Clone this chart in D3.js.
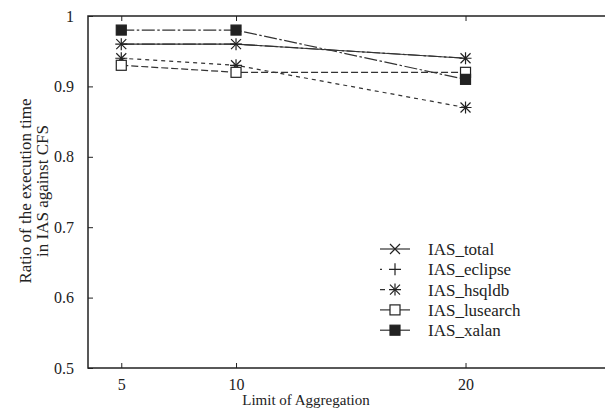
<!DOCTYPE html>
<html>
<head>
<meta charset="utf-8">
<script src="https://cdn.jsdelivr.net/npm/d3@7"></script>
<style>
	body { margin: 0; background: #fff; }
	text { font-family: "Liberation Serif", "DejaVu Serif", serif; fill: #222; }
</style>
</head>
<body>
<div class="chart"></div>
<script>
(function() {

	const limits = [5, 10, 20];
	const yTicks = [0.5, 0.6, 0.7, 0.8, 0.9, 1];

	const iasTotal    = [0.96, 0.96, 0.94];
	const iasEclipse  = [0.96, 0.96, 0.94];
	const iasHsqldb   = [0.94, 0.93, 0.87];
	const iasLusearch = [0.93, 0.92, 0.92];
	const iasXalan    = [0.98, 0.98, 0.91];

	const series = [
		{name: "IAS_total", values: iasTotal, dash: null, legendDash: null, marker: "x"},
		{name: "IAS_eclipse", values: iasEclipse, dash: "13,2.5,2.5,2.5", legendDash: "2,7,0,30", marker: "plus"},
		{name: "IAS_hsqldb", values: iasHsqldb, dash: "4,4", legendDash: "5,3,0,30", marker: "star"},
		{name: "IAS_lusearch", values: iasLusearch, dash: "7,3", legendDash: null, marker: "open"},
		{name: "IAS_xalan", values: iasXalan, dash: "13,2.5,2.5,2.5", legendDash: null, marker: "filled"}
	];

	const width = 605, height = 408;
	const margin = {top: 16, left: 88, bottom: 368};

	const x = d3.scaleLinear()
		.domain([3.55, 26.5])
		.range([margin.left, margin.left + 22.95 * 22.95]);

	const y = d3.scaleLinear()
		.domain([0.5, 1])
		.range([margin.bottom, margin.top]);

	const svg = d3.select(".chart").append("svg")
		.attr("width", width)
		.attr("height", height);

	// frame
	svg.append("rect")
		.attr("x", x.range()[0])
		.attr("y", margin.top)
		.attr("width", x.range()[1] - x.range()[0])
		.attr("height", margin.bottom - margin.top)
		.attr("fill", "none")
		.attr("stroke", "#222")
		.attr("stroke-width", 1.5);

	const xAxis = d3.axisBottom(x).tickValues(limits).tickSize(-5).tickPadding(11);
	const xAxisTop = d3.axisTop(x).tickValues(limits).tickSize(-5).tickFormat("");
	const yAxis = d3.axisLeft(y).tickValues(yTicks).tickSize(-5).tickPadding(14)
		.tickFormat(d => d === 1 ? "1" : d3.format(".1f")(d));

	function styleAxis(g) {
		g.select(".domain").remove();
		g.selectAll("line").attr("stroke", "#222");
		g.selectAll("text").style("font-size", "16px").attr("fill", "#222");
	}

	svg.append("g")
		.attr("transform", "translate(0," + margin.bottom + ")")
		.call(xAxis)
		.call(styleAxis);

	svg.append("g")
		.attr("transform", "translate(0," + margin.top + ")")
		.call(xAxisTop)
		.call(styleAxis);

	svg.append("g")
		.attr("transform", "translate(" + margin.left + ",0)")
		.call(yAxis)
		.call(styleAxis);

	svg.append("text")
		.attr("x", 306)
		.attr("y", 405)
		.attr("text-anchor", "middle")
		.style("font-size", "15px")
		.text("Limit of Aggregation");

	const yLabel = svg.append("text")
		.attr("transform", "translate(34,191) rotate(-90)")
		.attr("text-anchor", "middle")
		.style("font-size", "17px");
	yLabel.append("tspan").attr("x", 0).attr("dy", "-0.15em").text("Ratio of the execution time");
	yLabel.append("tspan").attr("x", 0).attr("dy", "0.95em").text("in IAS against CFS");

	function drawMarker(g, type) {
		const s = 5;
		if (type === "x" || type === "star") {
			g.append("path")
				.attr("d", `M${-s},${-s}L${s},${s}M${-s},${s}L${s},${-s}`)
				.attr("stroke", "#222").attr("stroke-width", 1.2);
		}
		if (type === "plus" || type === "star") {
			g.append("path")
				.attr("d", `M${-s - 1},0L${s + 1},0M0,${-s - 1}L0,${s + 1}`)
				.attr("stroke", "#222").attr("stroke-width", 1.2);
		}
		if (type === "open" || type === "filled") {
			g.append("rect")
				.attr("x", -s).attr("y", -s)
				.attr("width", 2 * s).attr("height", 2 * s)
				.attr("fill", type === "filled" ? "#222" : "#fff")
				.attr("stroke", "#222").attr("stroke-width", 1.2);
		}
	}

	const line = d3.line()
		.x((d, i) => x(limits[i]))
		.y(d => y(d));

	series.forEach(s => {
		svg.append("path")
			.attr("d", line(s.values))
			.attr("fill", "none")
			.attr("stroke", "#333")
			.attr("stroke-width", 1.2)
			.attr("stroke-dasharray", s.dash);
	});

	series.forEach(s => {
		s.values.forEach((v, i) => {
			const g = svg.append("g")
				.attr("transform", `translate(${x(limits[i])},${y(v)})`);
			drawMarker(g, s.marker);
		});
	});

	// legend
	const legend = svg.selectAll(".legend")
		.data(series)
		.enter().append("g")
		.attr("class", "legend")
		.attr("transform", (d, i) => "translate(380," + (249 + i * 20.3) + ")");

	legend.append("line")
		.attr("x1", 0).attr("x2", 30)
		.attr("stroke", "#333")
		.attr("stroke-width", 1.2)
		.attr("stroke-dasharray", d => d.legendDash);

	legend.each(function(d) {
		const g = d3.select(this).append("g").attr("transform", "translate(15,0)");
		drawMarker(g, d.marker);
	});

	legend.append("text")
		.attr("x", 48)
		.attr("dy", "0.35em")
		.style("font-size", "17px")
		.text(d => d.name);

})();
</script>
</body>
</html>
